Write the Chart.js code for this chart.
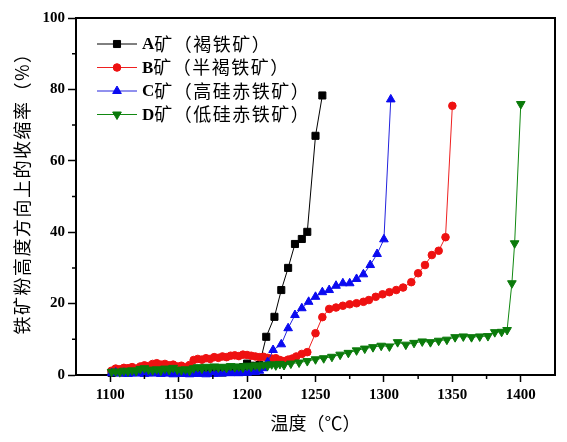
<!DOCTYPE html>
<html>
<head>
<meta charset="utf-8">
<title>铁矿粉收缩率</title>
<script src="https://cdn.jsdelivr.net/npm/chart.js@4.4.1/dist/chart.umd.min.js"></script>
<style>
  html, body { margin: 0; padding: 0; background: #fff; }
  #wrap { width: 567px; height: 442px; }
</style>
</head>
<body>
<div id="wrap"><canvas id="chart" width="567" height="442"></canvas></div>
<script>
// axis ticks
const xTicks = [1100, 1150, 1200, 1250, 1300, 1350, 1400];
const xMinor = [1125, 1175, 1225, 1275, 1325, 1375];
const yTicks = [0, 20, 40, 60, 80, 100];
const yMinor = [10, 30, 50, 70, 90];

const xTitle = '温度（℃）';
const yTitle = '铁矿粉高度方向上的收缩率（%）';

// series names: letter + rest
const seriesLetters = ['A', 'B', 'C', 'D'];
const seriesNames = ['矿（褐铁矿）', '矿（半褐铁矿）', '矿（高硅赤铁矿）', '矿（低硅赤铁矿）'];

// A矿 褐铁矿
const aTemp = [1101, 1104, 1107, 1110, 1113, 1116, 1119, 1122, 1125, 1128, 1131, 1134, 1137, 1140, 1143, 1146, 1149, 1152, 1155, 1158,
  1161, 1164, 1167, 1170, 1173, 1176, 1179, 1182, 1185, 1188, 1191, 1194, 1197, 1200, 1203, 1206, 1209,
  1214, 1220, 1225, 1230, 1235, 1240, 1244, 1250, 1255];
const aShrink = [0.6, 0.8, 1.0, 0.7, 1.1, 0.9, 1.2, 1.0, 1.3, 1.1, 0.9, 1.2, 1.4, 1.1, 1.3, 1.0, 1.2, 1.5, 1.3, 1.1,
  1.4, 1.2, 1.0, 1.3, 1.1, 0.8, 1.0, 0.7, 0.9, 1.2, 1.0, 1.4, 2.2, 3.2, 2.6, 2.4, 2.8,
  10.7, 16.3, 23.8, 30.0, 36.7, 38.1, 40.1, 67.0, 78.3];

// B矿 半褐铁矿
const bTemp = [1101, 1104, 1107, 1110, 1113, 1116, 1119, 1122, 1125, 1128, 1131, 1134, 1137, 1140, 1143, 1146, 1149, 1152, 1155, 1158,
  1161, 1164, 1167, 1170, 1173, 1176, 1179, 1182, 1185, 1188, 1191, 1194, 1197, 1200, 1203, 1206, 1209, 1212, 1215, 1218,
  1221, 1224, 1227, 1230, 1233, 1236,
  1240, 1244, 1250, 1255, 1260, 1265, 1270, 1275, 1280, 1285, 1289, 1294, 1299, 1304, 1309, 1314, 1320, 1325, 1330, 1335,
  1340, 1345, 1350];
const bShrink = [1.2, 1.8, 1.6, 2.0, 1.9, 2.2, 1.8, 2.4, 2.7, 2.5, 3.1, 3.3, 2.9, 3.1, 2.7, 2.9, 2.4, 2.6, 2.2, 2.8,
  4.2, 4.5, 4.3, 4.7, 4.5, 5.0, 4.8, 5.2, 5.0, 5.4, 5.5, 5.3, 5.7, 5.6, 5.4, 5.2, 5.0, 5.1, 4.8, 4.6,
  4.7, 4.2, 3.9, 4.3, 4.6, 5.2,
  5.9, 6.4, 11.7, 16.2, 18.5, 18.9, 19.4, 19.8, 20.1, 20.5, 21.0, 21.9, 22.6, 23.2, 23.8, 24.5, 26.0, 28.5, 30.8, 33.6,
  34.8, 38.6, 75.4];

// C矿 高硅赤铁矿
const cTemp = [1101, 1104, 1107, 1110, 1113, 1116, 1119, 1122, 1125, 1128, 1131, 1134, 1137, 1140, 1143, 1146, 1149, 1152, 1155, 1158,
  1161, 1164, 1167, 1170, 1173, 1176, 1179, 1182, 1185, 1188, 1191, 1194, 1197, 1200, 1203, 1206, 1209,
  1212, 1215, 1219, 1225, 1230, 1235, 1240, 1245, 1250, 1255, 1260, 1265, 1270, 1275, 1280, 1285, 1290, 1295, 1300, 1305];
const cShrink = [0.5, 0.7, 0.4, 0.6, 0.3, 0.5, 0.4, 0.6, 0.3, 0.5, 0.4, 0.6, 0.3, 0.5, 0.4, 0.2, 0.5, 0.3, 0.4, 0.2,
  0.4, 0.3, 0.5, 0.2, 0.4, 0.3, 0.5, 0.4, 0.6, 0.5, 0.7, 0.5, 0.8, 0.6, 0.9, 0.8, 1.2,
  1.9, 3.6, 7.0, 8.6, 13.1, 16.8, 18.7, 20.5, 21.9, 23.2, 23.8, 25.0, 25.7, 25.7, 26.9, 28.2, 30.8, 33.9, 38.0, 77.2];

// D矿 低硅赤铁矿
const dTemp = [1101, 1104, 1107, 1110, 1113, 1116, 1119, 1122, 1125, 1128, 1131, 1134, 1137, 1140, 1143, 1146, 1149, 1152, 1155, 1158,
  1161, 1164, 1167, 1170, 1173, 1176, 1179, 1182, 1185, 1188, 1191, 1194, 1197, 1200, 1203, 1206, 1209, 1212, 1215, 1218,
  1221, 1224, 1227,
  1232, 1238, 1244, 1250, 1256, 1262, 1268, 1274, 1280, 1286, 1292, 1298, 1304, 1310, 1316, 1322, 1328, 1334, 1340, 1346,
  1352, 1358, 1364, 1370, 1376, 1381, 1386, 1390, 1393.5, 1395.5, 1400];
const dShrink = [0.9, 1.0, 0.8, 1.2, 1.0, 1.3, 1.1, 1.7, 1.9, 1.5, 1.3, 1.6, 1.2, 1.8, 1.4, 2.0, 1.5, 1.3, 1.6, 1.2,
  1.9, 2.2, 1.8, 2.3, 2.0, 2.4, 2.1, 2.3, 2.0, 2.5, 2.2, 2.4, 2.1, 2.6, 2.3, 2.7, 2.4, 2.9, 2.6, 3.0,
  2.7, 3.1, 2.8,
  3.2, 3.5, 3.9, 4.4, 4.7, 5.1, 5.7, 6.2, 6.9, 7.4, 7.8, 8.2, 8.0, 9.2, 8.5, 9.0, 9.4, 9.2, 9.6, 9.9,
  10.6, 10.8, 10.6, 10.8, 10.9, 12.0, 12.1, 12.6, 25.7, 36.9, 75.9];

const serif = "'Liberation Serif', 'Times New Roman', serif";
const cjk = "'Noto Sans CJK SC', 'Noto Sans', sans-serif";

function pairs(xs, ys) {
  return xs.map((x, i) => ({ x: x, y: ys[i] }));
}

function series(idx, xs, ys, color, markerColor, style, radius, rotation, order) {
  return {
    label: seriesLetters[idx] + seriesNames[idx],
    data: pairs(xs, ys),
    borderColor: color,
    borderWidth: 1,
    backgroundColor: markerColor,
    pointBackgroundColor: markerColor,
    pointBorderColor: markerColor,
    pointBorderWidth: 1,
    pointStyle: style,
    pointRadius: radius,
    pointRotation: rotation,
    tension: 0,
    clip: false,
    order: order
  };
}

const datasets = [
  series(0, aTemp, aShrink, '#000000', '#000000', 'rect', 5, 0, 3),
  series(1, bTemp, bShrink, '#ee2020', '#ee1111', 'circle', 3.8, 0, 2),
  series(2, cTemp, cShrink, '#2222dd', '#0a0af0', 'triangle', 5, 0, 1),
  series(3, dTemp, dShrink, '#118811', '#0a7a0a', 'triangle', 5, 180, 0)
];

// legend with line through marker, drawn in the plot
const legendPlugin = {
  id: 'lineLegend',
  afterDraw(chart) {
    const ctx = chart.ctx;
    const rowY = [44, 67.5, 91, 114.5];
    const x0 = 97, x1 = 137, xm = 117, xt = 142;
    datasets.forEach((ds, i) => {
      const y = rowY[i];
      ctx.save();
      ctx.strokeStyle = ds.borderColor;
      ctx.lineWidth = 1;
      ctx.beginPath();
      ctx.moveTo(x0, y);
      ctx.lineTo(x1, y);
      ctx.stroke();
      ctx.fillStyle = ds.pointBackgroundColor;
      ctx.strokeStyle = ds.pointBorderColor;
      Chart.helpers.drawPoint(ctx, {
        pointStyle: ds.pointStyle,
        radius: ds.pointRadius,
        rotation: ds.pointRotation,
        borderWidth: 1
      }, xm, y);
      ctx.fillStyle = '#000';
      ctx.textBaseline = 'middle';
      ctx.textAlign = 'left';
      ctx.font = 'bold 17px ' + serif;
      ctx.fillText(seriesLetters[i], xt, y + 1);
      const w = ctx.measureText(seriesLetters[i]).width;
      ctx.font = '18px ' + cjk;
      ctx.letterSpacing = '1.5px';
      ctx.fillText(seriesNames[i], xt + w, y);
      ctx.restore();
    });
  }
};

// frame on top/right, minor ticks, y title
const framePlugin = {
  id: 'frame',
  afterDraw(chart) {
    const { ctx, chartArea: a, scales } = chart;
    ctx.save();
    ctx.strokeStyle = '#000';
    ctx.lineWidth = 2;
    ctx.beginPath();
    ctx.moveTo(a.left, a.top);
    ctx.lineTo(a.right, a.top);
    ctx.lineTo(a.right, a.bottom);
    ctx.stroke();
    ctx.lineWidth = 1.5;
    ctx.beginPath();
    xMinor.forEach(v => {
      const px = scales.x.getPixelForValue(v);
      ctx.moveTo(px, a.bottom);
      ctx.lineTo(px, a.bottom + 4);
    });
    yMinor.forEach(v => {
      const py = scales.y.getPixelForValue(v);
      ctx.moveTo(a.left, py);
      ctx.lineTo(a.left - 4, py);
    });
    ctx.stroke();

    ctx.translate(22, 189);
    ctx.rotate(-Math.PI / 2);
    ctx.fillStyle = '#000';
    ctx.font = '18px ' + cjk;
    ctx.letterSpacing = '1.5px';
    ctx.textAlign = 'center';
    ctx.textBaseline = 'middle';
    ctx.fillText(yTitle, 0, 0);
    ctx.restore();
  }
};

new Chart(document.getElementById('chart'), {
  type: 'line',
  data: { datasets: datasets },
  options: {
    responsive: false,
    animation: false,
    events: [],
    layout: { padding: { left: 0, top: 18, right: 12, bottom: 0 } },
    plugins: {
      legend: { display: false },
      tooltip: { enabled: false }
    },
    scales: {
      x: {
        type: 'linear',
        min: 1075,
        max: 1425,
        afterBuildTicks: s => { s.ticks = xTicks.map(v => ({ value: v })); },
        afterFit: s => { s.height = 67; },
        grid: { drawOnChartArea: false, drawTicks: true, tickLength: 7, tickColor: '#000', tickWidth: 1.5 },
        border: { display: true, color: '#000', width: 2 },
        ticks: {
          color: '#000',
          padding: 4,
          maxRotation: 0,
          autoSkip: false,
          callback: v => String(v),
          font: { family: serif, weight: 'bold', size: 15 }
        },
        title: {
          display: true,
          text: xTitle,
          color: '#000',
          font: { family: cjk, size: 18 },
          padding: { top: 0, bottom: 8 }
        }
      },
      y: {
        type: 'linear',
        min: 0,
        max: 100,
        afterBuildTicks: s => { s.ticks = yTicks.map(v => ({ value: v })); },
        afterFit: s => { s.width = 76; },
        grid: { drawOnChartArea: false, drawTicks: true, tickLength: 8, tickColor: '#000', tickWidth: 1.5 },
        border: { display: true, color: '#000', width: 2 },
        ticks: {
          color: '#000',
          padding: 3,
          autoSkip: false,
          callback: v => String(v),
          font: { family: serif, weight: 'bold', size: 15 }
        },
        title: { display: false }
      }
    }
  },
  plugins: [framePlugin, legendPlugin]
});
</script>
</body>
</html>
